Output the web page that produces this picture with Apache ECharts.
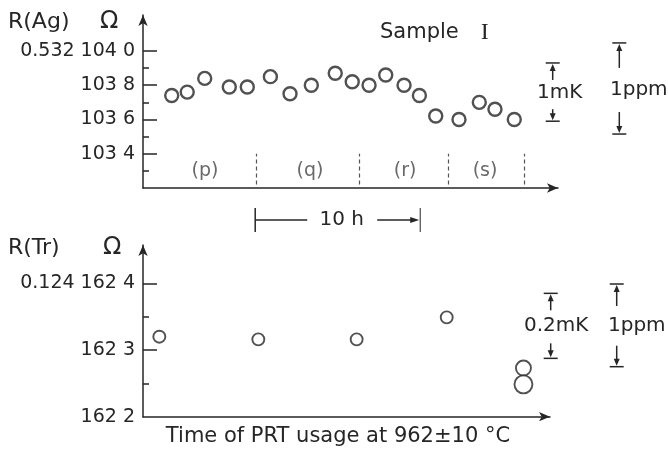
<!DOCTYPE html>
<html>
<head>
<meta charset="utf-8">
<script src="https://cdn.jsdelivr.net/npm/echarts@6/dist/echarts.min.js"></script>
<style>
  html, body { margin: 0; padding: 0; background: #fff; }
  #chart { width: 668px; height: 455px; }
</style>
</head>
<body>
<div id="chart"></div>
<script>
// Upper panel: R(Ag) readings (units of 1e-6 ohm after the 0.532 prefix), hours of use
const agHours  = [1.74, 2.68, 3.74, 5.23, 6.32, 7.72, 8.91, 10.2, 11.65, 12.68, 13.7, 14.71, 15.82, 16.75, 17.74, 19.15, 20.38, 21.33, 22.5];
const agValues = [103.74, 103.76, 103.84, 103.79, 103.79, 103.85, 103.75, 103.80, 103.87, 103.82, 103.80, 103.86, 103.80, 103.74, 103.62, 103.60, 103.70, 103.66, 103.60];

// Lower panel: R(Tr) checks taken between runs
const trHours  = [0.99, 6.99, 12.95, 18.41, 23.06, 23.06];
const trValues = [162.320, 162.316, 162.316, 162.349, 162.273, 162.2485];

// Run segments
const runBoundaries = [6.89, 13.11, 18.48, 23.09];
const runLabels     = ['(p)', '(q)', '(r)', '(s)'];
const runLabelHours = [3.76, 10.12, 15.88, 20.73];

// Axis ticks
const agTickValues  = [103.4, 103.6, 103.8, 104.0];
const agTickLabels  = ['103 4', '103 6', '103 8', '0.532 104 0'];
const agMinorTicks  = [103.3, 103.5, 103.7, 103.9];
const trTickValues  = [162.2, 162.3, 162.4];
const trTickLabels  = ['162 2', '162 3', '0.124 162 4'];
const trMajorTicks  = [162.3, 162.4];
const trMinorTicks  = [162.25, 162.35];

// Scale bars: [low end, span] in axis units
const agBarLabels = ['1mK', '1ppm'];
const agBarLow    = [103.59, 103.515];
const agBarSpan   = [0.34, 0.532];
const trBarLabels = ['0.2mK', '1ppm'];
const trBarLow    = [162.2875, 162.275];
const trBarSpan   = [0.0975, 0.124];

// Ten-hour reference span
const tenHourSpan = [6.8, 16.8];

const INK = '#262626';
const FONT = '"DejaVu Sans", sans-serif';

function labelFor(values, labels) {
  return function (v) {
    for (let i = 0; i < values.length; i++) {
      if (Math.abs(values[i] - v) < 1e-6) return labels[i];
    }
    return '';
  };
}

const axisLineStyle = { color: INK, width: 1.5 };

const chart = echarts.init(document.getElementById('chart'), null, { renderer: 'canvas' });

const option = {
  backgroundColor: '#fff',
  animation: false,
  grid: [
    { left: 143, top: 15, width: 415, height: 173 },
    { left: 143, top: 245, width: 407, height: 171.7 }
  ],
  xAxis: [
    { gridIndex: 0, type: 'value', min: 0, max: 25.15,
      axisLine: { show: true, lineStyle: axisLineStyle, symbol: ['none', 'arrow'], symbolSize: [7, 11] },
      axisTick: { show: false }, axisLabel: { show: false }, splitLine: { show: false } },
    { gridIndex: 1, type: 'value', min: 0, max: 24.67,
      axisLine: { show: true, lineStyle: axisLineStyle, symbol: ['none', 'arrow'], symbolSize: [7, 11] },
      axisTick: { show: false }, axisLabel: { show: false }, splitLine: { show: false } }
  ],
  yAxis: [
    { gridIndex: 0, type: 'value', position: 'left', min: 103.2, max: 104.21,
      axisLine: { show: true, onZero: false, lineStyle: axisLineStyle, symbol: ['none', 'arrow'], symbolSize: [7, 11] },
      axisTick: { show: true, inside: true, length: 14, lineStyle: { color: INK, width: 1.5 }, customValues: agTickValues },
      axisLabel: { show: true, margin: 8, color: INK, fontFamily: FONT, fontSize: 19,
                   customValues: agTickValues, formatter: labelFor(agTickValues, agTickLabels) },
      splitLine: { show: false } },
    { gridIndex: 0, type: 'value', position: 'left', min: 103.2, max: 104.21,
      axisLine: { show: false },
      axisTick: { show: true, inside: true, length: 6, lineStyle: { color: INK, width: 1.5 }, customValues: agMinorTicks },
      axisLabel: { show: false }, splitLine: { show: false } },
    { gridIndex: 1, type: 'value', position: 'left', min: 162.2, max: 162.4575,
      axisLine: { show: true, onZero: false, lineStyle: axisLineStyle, symbol: ['none', 'arrow'], symbolSize: [7, 11] },
      axisTick: { show: true, inside: true, length: 14, lineStyle: { color: INK, width: 1.5 }, customValues: trMajorTicks },
      axisLabel: { show: true, margin: 8, color: INK, fontFamily: FONT, fontSize: 19,
                   customValues: trTickValues, formatter: labelFor(trTickValues, trTickLabels) },
      splitLine: { show: false } },
    { gridIndex: 1, type: 'value', position: 'left', min: 162.2, max: 162.4575,
      axisLine: { show: false },
      axisTick: { show: true, inside: true, length: 6, lineStyle: { color: INK, width: 1.5 }, customValues: trMinorTicks },
      axisLabel: { show: false }, splitLine: { show: false } }
  ],
  series: [
    {
      name: 'R(Ag)', type: 'scatter', xAxisIndex: 0, yAxisIndex: 0,
      symbol: 'circle', symbolSize: 13,
      itemStyle: { color: '#fff', borderColor: INK, borderWidth: 2.4 },
      data: agHours.map((h, i) => [h, agValues[i]]),
      markLine: {
        silent: true, symbol: ['none', 'none'], label: { show: false },
        lineStyle: { color: '#555', width: 1.2, type: [4, 3] },
        data: runBoundaries.map(h => [{ coord: [h, 103.22] }, { coord: [h, 103.40] }])
      }
    },
    {
      name: 'runs', type: 'scatter', xAxisIndex: 0, yAxisIndex: 0,
      symbolSize: 0, silent: true,
      label: { show: true, position: 'inside', color: '#444', fontFamily: FONT, fontSize: 19,
               formatter: p => runLabels[p.dataIndex] },
      data: runLabelHours.map(h => [h, 103.296])
    },
    {
      name: 'R(Tr)', type: 'scatter', xAxisIndex: 1, yAxisIndex: 2,
      symbol: 'circle',
      itemStyle: { color: '#fff', borderColor: INK, borderWidth: 1.9 },
      data: trHours.map((h, i) => ({
        value: [h, trValues[i]],
        symbolSize: i === 4 ? 15 : (i === 5 ? 18 : 12)
      }))
    }
  ]
};

chart.setOption(option);

// Annotations placed through the axes' own scales
function txt(text, x, y, size, align, family) {
  return {
    type: 'text', silent: true,
    style: { text, x, y, fill: INK, font: size + 'px ' + (family || FONT),
             textAlign: align || 'left', textVerticalAlign: 'middle',
             align: align || 'left', verticalAlign: 'middle' }
  };
}
function seg(x1, y1, x2, y2, w) {
  return { type: 'line', silent: true, shape: { x1, y1, x2, y2 },
           style: { stroke: INK, lineWidth: w || 1.5 } };
}
function tri(points) {
  return { type: 'polygon', silent: true, shape: { points }, style: { fill: INK } };
}
function scaleBar(x, yTop, yBot, stemTop, stemBot) {
  return [
    seg(x - 7, yTop, x + 7, yTop),
    seg(x, yTop + 6, x, yTop + stemTop),
    tri([[x, yTop + 1], [x - 3, yTop + 8], [x + 3, yTop + 8]]),
    seg(x - 7, yBot, x + 7, yBot),
    seg(x, yBot - 6, x, yBot - stemBot),
    tri([[x, yBot - 1], [x - 3, yBot - 8], [x + 3, yBot - 8]])
  ];
}

const els = [];
const py0 = v => chart.convertToPixel({ gridIndex: 0 }, [0, v])[1];
const py1 = v => chart.convertToPixel({ gridIndex: 1 }, [0, v])[1];
const px0 = h => chart.convertToPixel({ gridIndex: 0 }, [h, 103.5])[0];

// Axis names
els.push(txt('R(Ag)', 8, 22, 22));
els.push(txt('Ω', 100, 22, 24));
els.push(txt('R(Tr)', 8, 248, 22));
els.push(txt('Ω', 103, 248, 24));

// Panel title
els.push({
  type: 'text', silent: true,
  style: {
    x: 380, y: 33, text: '{a|Sample}{b|I}', fill: INK,
    textVerticalAlign: 'middle', verticalAlign: 'middle',
    rich: {
      a: { fontFamily: FONT, fontSize: 21, fill: INK, padding: [0, 22, 0, 0] },
      b: { fontFamily: '"Liberation Serif", serif', fontSize: 24, fill: INK }
    }
  }
});

// Upper scale bars
const agBarX = [552.7, 619.3];
const agTextX = [537, 610];
agBarLabels.forEach((lab, i) => {
  const yBot = py0(agBarLow[i]);
  const yTop = py0(agBarLow[i] + agBarSpan[i]);
  const stems = i === 0 ? [17, 12] : [25, 22];
  els.push(...scaleBar(agBarX[i], yTop, yBot, stems[0], stems[1]));
  els.push(txt(lab, agTextX[i], (yTop + yBot) / 2 + 1, 20));
});

// Lower scale bars
const trBarX = [550.7, 616.7];
const trTextX = [524, 608];
trBarLabels.forEach((lab, i) => {
  const yBot = py1(trBarLow[i]);
  const yTop = py1(trBarLow[i] + trBarSpan[i]);
  const stems = i === 0 ? [17, 15] : [22, 21];
  els.push(...scaleBar(trBarX[i], yTop, yBot, stems[0], stems[1]));
  els.push(txt(lab, trTextX[i], (yTop + yBot) / 2, 20));
});

// Ten-hour marker
const xa = px0(tenHourSpan[0]);
const xb = px0(tenHourSpan[1]);
const ym = 220;
els.push(seg(xa, ym - 12, xa, ym + 12));
els.push(seg(xa, ym, xa + 52, ym));
els.push(txt('10 h', (xa + xb) / 2 + 4, ym, 20, 'center'));
els.push(seg(xb - 43, ym, xb - 6, ym));
els.push(tri([[xb - 1, ym], [xb - 10, ym - 3], [xb - 10, ym + 3]]));
els.push(seg(xb, ym - 12, xb, ym + 12, 1));

// Horizontal axis caption
els.push(txt('Time of PRT usage at 962±10 °C', 338, 437, 21, 'center'));

chart.setOption({ graphic: els });
</script>
</body>
</html>
